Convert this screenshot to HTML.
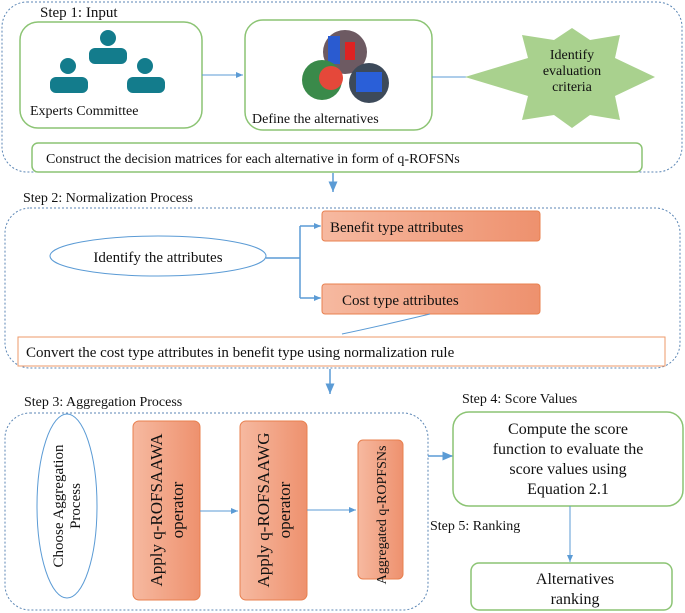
<!DOCTYPE html>
<html><head><meta charset="utf-8"><style>body{margin:0;background:#fff}svg{display:block}text{font-family:"Liberation Serif",serif;fill:#111}</style></head><body>
<svg width="685" height="613" viewBox="0 0 685 613" xmlns="http://www.w3.org/2000/svg">
<defs><marker id="a" markerWidth="8" markerHeight="8" refX="7" refY="4" orient="auto"><path d="M0,1 L7,4 L0,7z" fill="#5b9bd5"/></marker>
<linearGradient id="og" x1="0" x2="1"><stop offset="0" stop-color="#f6b9a0"/><stop offset="1" stop-color="#ee916e"/></linearGradient></defs>
<rect x="2" y="2" width="680" height="170" rx="25" fill="none" stroke="#5b86b5" stroke-dasharray="2,2"/>
<text x="40" y="17" font-size="15">Step 1: Input</text>
<rect x="20" y="22" width="182" height="106" rx="18" fill="#fff" stroke="#8cc474" stroke-width="1.5"/>
<g fill="#137c8c"><circle cx="108" cy="38" r="8"/><rect x="89" y="48" width="38" height="16" rx="6"/><circle cx="68" cy="66" r="8"/><rect x="50" y="77" width="38" height="16" rx="6"/><circle cx="145" cy="66" r="8"/><rect x="127" y="77" width="38" height="16" rx="6"/></g>
<text x="30" y="115" font-size="14">Experts Committee</text>
<rect x="245" y="20" width="187" height="110" rx="18" fill="#fff" stroke="#8cc474" stroke-width="1.5"/>
<circle cx="345" cy="52" r="22" fill="#6d5a62"/><rect x="328" y="36" width="12" height="28" fill="#2a5bd0"/><rect x="345" y="42" width="10" height="18" fill="#d22"/>
<circle cx="322" cy="80" r="20" fill="#3a8a4a"/><circle cx="331" cy="78" r="12" fill="#e5483a"/>
<circle cx="369" cy="83" r="20" fill="#3d4a5a"/><rect x="356" y="72" width="26" height="20" fill="#2a5fd8"/>
<text x="252" y="123" font-size="14">Define the alternatives</text>
<line x1="202" y1="75" x2="243" y2="75" stroke="#5b9bd5" marker-end="url(#a)"/>
<line x1="432" y1="77" x2="480" y2="77" stroke="#5b9bd5"/>
<polygon fill="#a9d18e" points="572,28 590,40 620,35 615,58 655,77 615,96 620,120 590,115 572,128 554,115 522,120 528,96 465,77 528,58 522,35 554,40"/>
<text font-size="14" text-anchor="middle"><tspan x="572" y="59">Identify</tspan><tspan x="572" y="75">evaluation</tspan><tspan x="572" y="91">criteria</tspan></text>
<rect x="32" y="143" width="610" height="29" rx="6" fill="#fff" stroke="#8cc474" stroke-width="1.5"/>
<text x="46" y="163" font-size="14">Construct the decision matrices for each alternative in form of q-ROFSNs</text>
<line x1="333" y1="173" x2="333" y2="192" stroke="#5b9bd5" stroke-width="1.5" marker-end="url(#a)"/>
<text x="23" y="202" font-size="14">Step 2: Normalization Process</text>
<rect x="5" y="208" width="675" height="160" rx="25" fill="none" stroke="#5b86b5" stroke-dasharray="2,2"/>
<ellipse cx="158" cy="256" rx="108" ry="20" fill="#fff" stroke="#5b9bd5"/>
<text x="158" y="262" font-size="15" text-anchor="middle">Identify the attributes</text>
<path d="M266,258 H300 M300,226 V298 M300,226 H320 M300,298 H320" stroke="#5b9bd5" fill="none" stroke-width="1.5"/>
<line x1="310" y1="226" x2="321" y2="226" stroke="#5b9bd5" marker-end="url(#a)"/>
<line x1="310" y1="298" x2="321" y2="298" stroke="#5b9bd5" marker-end="url(#a)"/>
<rect x="322" y="211" width="218" height="30" rx="3" fill="url(#og)" stroke="#e8804f"/>
<text x="330" y="232" font-size="15">Benefit type attributes</text>
<rect x="322" y="284" width="218" height="30" rx="3" fill="url(#og)" stroke="#e8804f"/>
<text x="342" y="305" font-size="15">Cost type attributes</text>
<path d="M342,334 Q380,326 430,314" stroke="#5b9bd5" fill="none"/>
<rect x="18" y="337" width="647" height="29" fill="#fff" stroke="#ee9a6a"/>
<text x="26" y="357" font-size="15">Convert the cost type attributes in benefit type using normalization rule</text>
<line x1="330" y1="369" x2="330" y2="394" stroke="#5b9bd5" stroke-width="1.5" marker-end="url(#a)"/>
<text x="24" y="406" font-size="14">Step 3: Aggregation Process</text>
<rect x="5" y="413" width="423" height="197" rx="25" fill="none" stroke="#5b86b5" stroke-dasharray="2,2"/>
<ellipse cx="67" cy="506" rx="30" ry="92" fill="#fff" stroke="#5b9bd5"/>
<text font-size="15" text-anchor="middle" transform="translate(67,506) rotate(-90)"><tspan x="0" y="-4">Choose Aggregation</tspan><tspan x="0" y="13">Process</tspan></text>
<rect x="133" y="421" width="67" height="179" rx="6" fill="url(#og)" stroke="#e8804f"/>
<text font-size="17" text-anchor="middle" transform="translate(166,510) rotate(-90)"><tspan x="0" y="-4">Apply  q-ROFSAAWA</tspan><tspan x="0" y="17">operator</tspan></text>
<rect x="240" y="421" width="67" height="179" rx="6" fill="url(#og)" stroke="#e8804f"/>
<text font-size="17" text-anchor="middle" transform="translate(273,510) rotate(-90)"><tspan x="0" y="-4">Apply  q-ROFSAAWG</tspan><tspan x="0" y="17">operator</tspan></text>
<rect x="358" y="440" width="45" height="139" rx="5" fill="url(#og)" stroke="#e8804f"/>
<text font-size="14" text-anchor="middle" transform="translate(386,515) rotate(-90)">Aggregated q-ROPFSNs</text>
<line x1="200" y1="511" x2="238" y2="511" stroke="#5b9bd5" marker-end="url(#a)"/>
<line x1="307" y1="510" x2="356" y2="510" stroke="#5b9bd5" marker-end="url(#a)"/>
<line x1="428" y1="456" x2="453" y2="456" stroke="#5b9bd5" stroke-width="1.5" marker-end="url(#a)"/>
<text x="462" y="403" font-size="14">Step 4: Score Values</text>
<rect x="453" y="412" width="230" height="94" rx="16" fill="#fff" stroke="#8cc474" stroke-width="1.5"/>
<text font-size="16" text-anchor="middle"><tspan x="568" y="434">Compute the score</tspan><tspan x="568" y="454">function to evaluate the</tspan><tspan x="568" y="474">score values using</tspan><tspan x="568" y="494">Equation 2.1</tspan></text>
<text x="430" y="530" font-size="14">Step 5: Ranking</text>
<line x1="570" y1="506" x2="570" y2="562" stroke="#5b9bd5" marker-end="url(#a)"/>
<rect x="471" y="563" width="201" height="47" rx="8" fill="#fff" stroke="#8cc474" stroke-width="1.5"/>
<text font-size="16" text-anchor="middle"><tspan x="575" y="584">Alternatives</tspan><tspan x="575" y="604">ranking</tspan></text>
</svg>
</body></html>
